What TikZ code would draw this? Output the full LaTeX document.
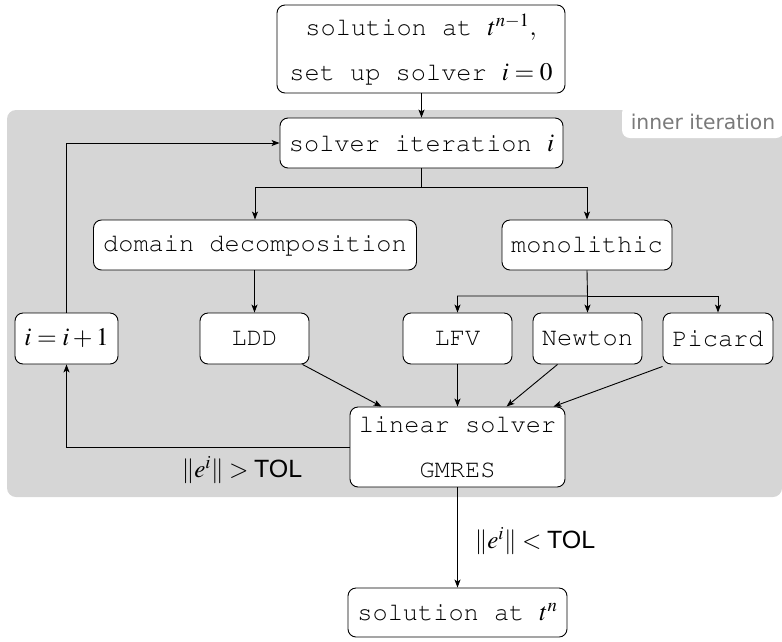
\documentclass[tikz,border=0pt]{standalone}
\usepackage{mathptmx}
\usepackage{fontspec}
\newfontfamily\tolfont{Liberation Sans}
\newfontfamily\lblfont{DejaVu Sans}
\newcommand{\cour}{\fontencoding{T1}\fontfamily{pcr}\selectfont}
\usetikzlibrary{arrows.meta}
\definecolor{bggray}{HTML}{D6D6D6}
\definecolor{lblgray}{HTML}{7A7A7A}
\tikzset{
  box/.style={draw, rounded corners=8pt, fill=white, line width=0.9pt, inner sep=0pt,
    align=center, font=\cour\fontsize{25.3}{45}\selectfont},
  conn/.style={line width=0.9pt, -{Stealth[length=8pt,width=6pt,inset=2pt]}},
  lbl/.style={font=\fontsize{25}{30}\selectfont, inner sep=0pt}
}
\newcommand{\TOLtxt}{\hbox{\tolfont TOL}}
\begin{document}
\begin{tikzpicture}[x=1pt,y=-1pt]
\useasboundingbox (0,0) rectangle (782,641);
% background region
\fill[bggray, rounded corners=9pt] (7,110) rectangle (782,497);
\node[fill=white, rounded corners=8pt, minimum width=162pt, minimum height=33pt, inner sep=0pt,
  font=\lblfont\fontsize{20.3}{24}\selectfont, text=lblgray] (inner) at (703,121.5) {inner iteration};
% nodes
\node[box, minimum width=288pt, minimum height=88pt] (top) at (421,49) {solution at $t^{n-1},$\\set up solver $i=0$};
\node[box, minimum width=283pt, minimum height=50pt] (solver) at (421.5,143) {solver iteration $i$};
\node[box, minimum width=323pt, minimum height=50pt] (dd) at (255,245) {domain decomposition};
\node[box, minimum width=170pt, minimum height=50pt] (mono) at (587,245) {monolithic};
\node[box, minimum width=103pt, minimum height=51pt] (inc) at (66.5,338.5) {$i=i+1$};
\node[box, minimum width=109pt, minimum height=51pt] (ldd) at (254.5,338.5) {LDD};
\node[box, minimum width=109pt, minimum height=51pt] (lfv) at (457.5,338.5) {LFV};
\node[box, minimum width=109pt, minimum height=51pt] (newton) at (587.5,338.5) {Newton};
\node[box, minimum width=110pt, minimum height=51pt] (picard) at (718,338.5) {Picard};
\node[box, minimum width=215pt, minimum height=80pt] (lin) at (457.5,447) {linear solver\\GMRES};
\node[box, minimum width=219pt, minimum height=49pt] (sol) at (457.5,612.5) {solution at $t^{n}$};
% helper coordinates
\coordinate (split1) at (421.5,187);
\coordinate (split2) at (587.5,296);
% connectors
\draw[conn] (solver.north |- top.south) -- (solver.north);
\draw[conn] (solver.south) -- (split1) -| (dd.north);
\draw[conn] (split1) -| (mono.north);
\draw[conn] (dd.south -| ldd.north) -- (ldd.north);
\draw[conn] (mono.south) -- (split2) -| (lfv.north);
\draw[conn] (split2) -| (picard.north);
\draw[conn] (split2) -- (newton.north);
\draw[conn] ([xshift=48pt]ldd.south) -- ([xshift=-76pt]lin.north);
\draw[conn] (lfv.south) -- (lin.north -| lfv.south);
\draw[conn] ([xshift=-30pt]newton.south) -- ([xshift=49pt]lin.north);
\draw[conn] ([yshift=-2pt]picard.south west) -- ([xshift=96pt]lin.north);
\draw[conn] (lin.west) -| (inc.south);
\draw[conn] (inc.north) |- (solver.west);
\draw[conn] (lin.south) -- (sol.north);
% labels
\node[lbl] (gt) at (242,470) {$\|e^i\| > \TOLtxt$};
\node[lbl] (lt) at (535,541) {$\|e^i\| < \TOLtxt$};
\end{tikzpicture}
\end{document}
